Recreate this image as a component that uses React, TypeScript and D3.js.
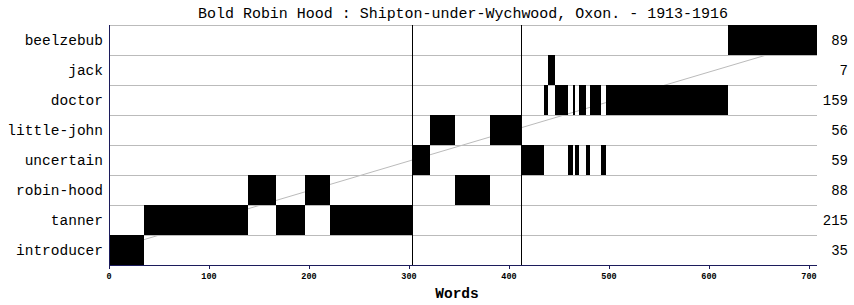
import React from "react";
import * as d3 from "d3";

const title = "Bold Robin Hood : Shipton-under-Wychwood, Oxon. - 1913-1916";
const characters = ["beelzebub", "jack", "doctor", "little-john", "uncertain", "robin-hood", "tanner", "introducer"];
const totals = [89, 7, 159, 56, 59, 88, 215, 35];
const speechSpeakers = [
  "introducer", "tanner", "robin-hood", "tanner", "robin-hood", "tanner",
  "uncertain", "little-john", "robin-hood", "little-john", "uncertain",
  "doctor", "jack", "doctor", "uncertain", "doctor", "uncertain", "doctor",
  "uncertain", "doctor", "uncertain", "doctor", "beelzebub",
];
const speechWords = [35, 104, 28, 29, 25, 82, 18, 25, 35, 31, 23, 4, 7, 13, 5, 2, 4, 7, 4, 11, 5, 122, 89];
const sceneBreaks = [303, 412];
const xTicks = [0, 100, 200, 300, 400, 500, 600, 700];
const xLabel = "Words";

export default function App() {
  const W = 854, H = 305;
  const left = 109, right = 817, top = 25, bottom = 265;
  const totalWords = d3.sum(speechWords);
  const x = d3.scaleLinear().domain([0, totalWords]).range([left, right]);
  const y = d3.scaleBand().domain(characters).range([top, bottom]).padding(0);
  const starts = d3.cumsum([0, ...speechWords]);
  const segs = speechSpeakers.map((s, i) => ({ s, x0: starts[i], x1: starts[i] + speechWords[i] }));
  const bw = y.bandwidth();
  const mono = "'Liberation Mono', 'DejaVu Sans Mono', monospace";
  const navy = "#1c1c5c";
  const lineY0 = (y(characters[characters.length - 1]) as number) + bw / 2;
  const lineY1 = (y(characters[0]) as number) + bw / 2;

  return (
    <svg width={W} height={H} style={{ position: "absolute", left: 0, top: 0, background: "#fff" }}>
      <rect x={0} y={0} width={W} height={H} fill="#fff" />
      <text x={(left + right) / 2} y={18} textAnchor="middle" fontFamily={mono} fontSize={14} fontWeight="normal" textLength={530} lengthAdjust="spacingAndGlyphs" fill="#000">{title}</text>
      {characters.map((c) => (
        <line key={"g" + c} x1={left} x2={right} y1={(y(c) as number) + 0.5} y2={(y(c) as number) + 0.5} stroke="#bbb" strokeWidth={1} />
      ))}
      <line x1={x(0)} y1={lineY0} x2={x(totalWords)} y2={lineY1} stroke="#bbb" strokeWidth={1} />
      {segs.map((d, i) => (
        <rect key={"b" + i} x={x(d.x0)} y={y(d.s) as number} width={x(d.x1) - x(d.x0)} height={bw} fill="#000" />
      ))}
      {sceneBreaks.map((b) => (
        <line key={"s" + b} x1={Math.round(x(b)) + 0.5} x2={Math.round(x(b)) + 0.5} y1={top} y2={bottom} stroke="#000" strokeWidth={1} />
      ))}
      <line x1={left + 0.5} x2={left + 0.5} y1={top} y2={bottom} stroke={navy} strokeWidth={1} />
      <line x1={left} x2={right} y1={bottom + 0.5} y2={bottom + 0.5} stroke={navy} strokeWidth={1} />
      {xTicks.map((t) => (
        <g key={"t" + t}>
          <line x1={Math.round(x(t)) + 0.5} x2={Math.round(x(t)) + 0.5} y1={bottom} y2={bottom + 4} stroke={navy} />
          <text x={x(t)} y={279} textAnchor="middle" fontFamily={mono} fontSize={8.5} fontWeight="bold" fill="#000">{t}</text>
        </g>
      ))}
      {characters.map((c, i) => (
        <g key={"l" + c}>
          <text x={103} y={(y(c) as number) + bw / 2 + 5} textAnchor="end" fontFamily={mono} fontSize={14.5} fill="#000">{c}</text>
          <text x={848} y={(y(c) as number) + bw / 2 + 5} textAnchor="end" fontFamily={mono} fontSize={14} fill="#000">{totals[i]}</text>
        </g>
      ))}
      <text x={457} y={298} textAnchor="middle" fontFamily={mono} fontSize={14.5} fontWeight="bold" fill="#000">{xLabel}</text>
    </svg>
  );
}
